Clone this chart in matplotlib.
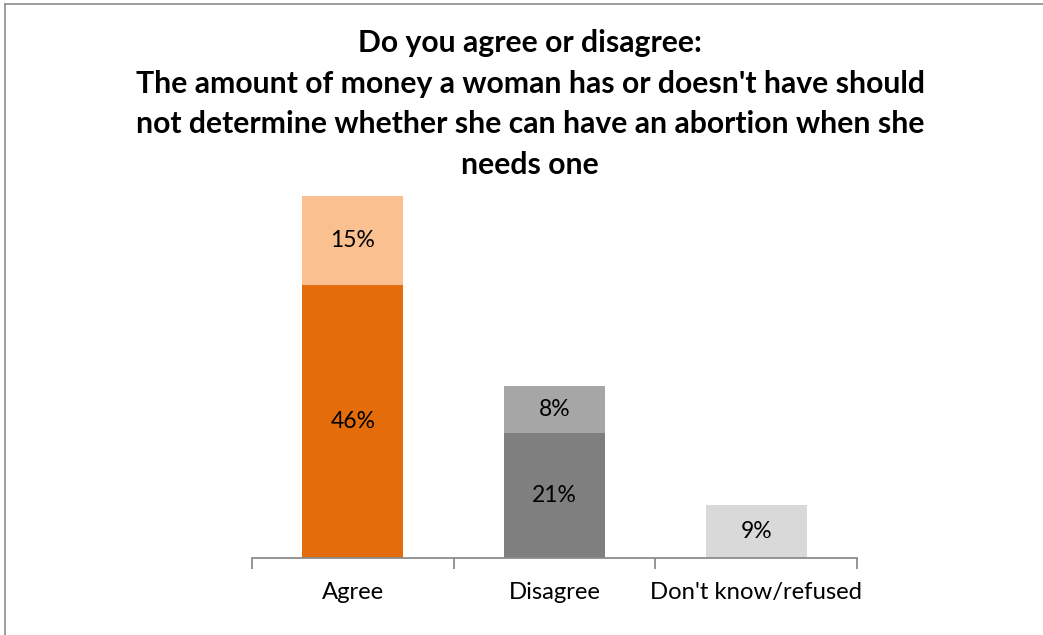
import matplotlib
matplotlib.use("Agg")
import matplotlib.pyplot as plt
from matplotlib.lines import Line2D

categories = ["Agree", "Disagree", "Don't know/refused"]
strong = [46, 21, 9]
somewhat = [15, 8, 0]
strong_colors = ["#E46C0A", "#7F7F7F", "#D9D9D9"]
somewhat_colors = ["#FAC090", "#A6A6A6", "#D9D9D9"]
title = ("Do you agree or disagree:\n"
         "The amount of money a woman has or doesn't have should\n"
         "not determine whether she can have an abortion when she\n"
         "needs one")

plt.rcParams['font.family'] = ['Lato', 'DejaVu Sans']

W, H = 1043, 635
fig = plt.figure(figsize=(W / 100, H / 100), dpi=100)
ax = fig.add_axes([252 / W, (H - 558) / H, (857 - 252) / W, (558 - 196) / H])

x = list(range(len(categories)))
ax.bar(x, strong, width=0.5, color=strong_colors, zorder=2)
ax.bar(x, somewhat, width=0.5, bottom=strong, color=somewhat_colors, zorder=2)

for i in x:
    ax.text(i, strong[i] / 2, f"{strong[i]}%", ha="center", va="center", fontsize=16.5)
    if somewhat[i] > 0:
        ax.text(i, strong[i] + somewhat[i] / 2, f"{somewhat[i]}%", ha="center", va="center", fontsize=16.5)

ax.set_xlim(-0.5, len(categories) - 0.5)
ax.set_ylim(0, 61)
ax.set_yticks([])
for s in ["left", "right", "top"]:
    ax.spines[s].set_visible(False)
ax.spines["bottom"].set_color("#8C8C8C")
ax.spines["bottom"].set_linewidth(1.3)
ax.set_xticks([-0.5, 0.5, 1.5, 2.5], minor=False)
ax.set_xticklabels([])
ax.tick_params(axis="x", length=8, width=1.3, color="#8C8C8C")
ax.set_xticks(x, minor=True)
ax.set_xticklabels(categories, minor=True, fontsize=17.2)
ax.tick_params(axis="x", which="minor", length=0, pad=17)

fig.text(530 / W, 1 - 29 / H, title, ha="center", va="top", fontsize=21.7,
         fontweight="bold", linespacing=1.55)

# outer frame (left and top edges visible)
fig.add_artist(Line2D([4.5 / W, 4.5 / W], [0, 1 - 3.5 / H], transform=fig.transFigure, color="#8C8C8C", lw=1.2))
fig.add_artist(Line2D([4.5 / W, 1], [1 - 3.5 / H, 1 - 3.5 / H], transform=fig.transFigure, color="#8C8C8C", lw=1.2))

fig.savefig("out.png", dpi=100)
